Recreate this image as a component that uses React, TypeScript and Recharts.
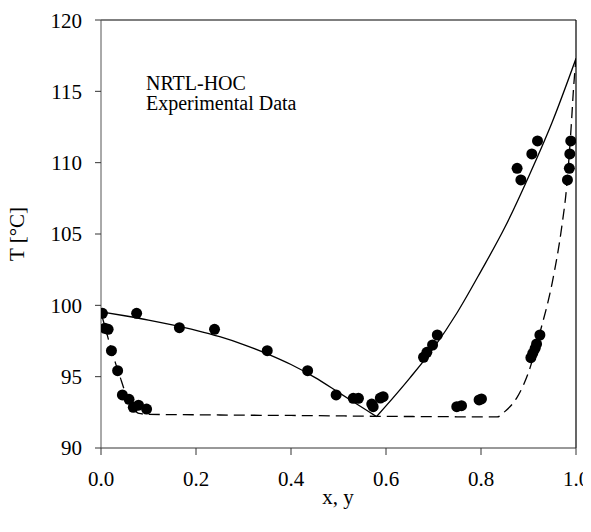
import React from "react";
import {
  ComposedChart,
  Line,
  Scatter,
  XAxis,
  YAxis,
  ReferenceLine,
  Customized,
} from "recharts";

// Model curves (NRTL-HOC)
const bubbleX = [0, 0.05, 0.1, 0.15, 0.2, 0.25, 0.3, 0.35, 0.4, 0.45, 0.5, 0.54, 0.58];
const bubbleT = [99.55, 99.27, 98.97, 98.63, 98.25, 97.8, 97.25, 96.6, 95.85, 94.95, 93.9, 93.05, 92.2];
const bubbleX2 = [0.58, 0.6, 0.65, 0.7, 0.75, 0.8, 0.85, 0.9, 0.95, 1.0];
const bubbleT2 = [92.2, 92.95, 94.9, 97.0, 99.5, 102.4, 105.45, 109.0, 112.85, 117.3];

const dewX = [0, 0.01, 0.02, 0.03, 0.04, 0.05, 0.06, 0.07, 0.08, 0.1, 0.2, 0.3, 0.4, 0.5, 0.58, 0.7, 0.8, 0.834, 0.85, 0.875, 0.9, 0.925, 0.95, 0.97, 0.98, 0.99, 0.995, 1.0];
const dewT = [99.5, 98.3, 97.1, 96.0, 95.0, 94.0, 93.25, 92.7, 92.42, 92.36, 92.33, 92.3, 92.28, 92.25, 92.22, 92.2, 92.18, 92.18, 92.55, 93.5, 95.3, 98.2, 101.6, 105.5, 108.2, 112.6, 115.3, 117.3];

// Experimental data
const expX = [
  0.003, 0.008, 0.015, 0.022, 0.035, 0.045, 0.059, 0.068, 0.079, 0.096,
  0.075, 0.165, 0.239, 0.35, 0.435, 0.495, 0.531, 0.542, 0.57, 0.573, 0.588, 0.594,
  0.679, 0.686, 0.698, 0.708,
  0.749, 0.759, 0.796, 0.801,
  0.905, 0.909, 0.914, 0.917, 0.924,
  0.876, 0.884, 0.907, 0.919,
  0.982, 0.986, 0.987, 0.989,
];
const expT = [
  99.44, 98.4, 98.32, 96.82, 95.42, 93.72, 93.41, 92.85, 93.0, 92.73,
  99.44, 98.43, 98.32, 96.82, 95.42, 93.72, 93.48, 93.48, 93.08, 92.9, 93.5, 93.6,
  96.36, 96.71, 97.22, 97.92,
  92.9, 92.97, 93.37, 93.44,
  96.33, 96.64, 96.99, 97.29, 97.92,
  109.6, 108.79, 110.61, 111.52,
  108.79, 109.6, 110.61, 111.52,
];

const xTicks = [0, 0.2, 0.4, 0.6, 0.8, 1.0];
const yTicks = [90, 95, 100, 105, 110, 115, 120];
const legendLines = ["NRTL-HOC", "Experimental Data"];
const xLabel = "x, y";
const yLabel = "T [°C]";

const zip = (xs: number[], ts: number[]) => xs.map((x, i) => ({ x, T: ts[i] }));
const bubbleData = zip(bubbleX, bubbleT);
const bubbleData2 = zip(bubbleX2, bubbleT2);
const dewData = zip(dewX, dewT);
const expData = zip(expX, expT);

const FONT = "Liberation Serif";

const Dot = (props: any) => {
  const { cx, cy } = props;
  if (cx == null || cy == null) return null;
  return <circle cx={cx} cy={cy} r={5.5} fill="#000" />;
};

const W = 583;
const H = 516;

export default function App() {
  return (
    <div style={{ position: "relative", width: W, height: H, fontFamily: FONT }}>
      <div
        style={{
          position: "absolute",
          left: 39,
          top: -27,
          fontFamily: FONT,
          fontSize: 21,
          whiteSpace: "pre",
          color: "#000",
        }}
      >
        {"x,"}
      </div>
      <div
        style={{
          position: "absolute",
          left: 113,
          top: -27,
          fontFamily: FONT,
          fontSize: 21,
          whiteSpace: "pre",
          color: "#000",
        }}
      >
        {"y"}
      </div>
      <ComposedChart
        width={W}
        height={H}
        margin={{ top: 12, right: 15, left: 0, bottom: 0 }}
        style={{ fontFamily: FONT }}
      >
        <XAxis
          type="number"
          dataKey="x"
          domain={[0, 1]}
          ticks={xTicks}
          tickFormatter={(v: number) => v.toFixed(1)}
          allowDataOverflow
          height={76}
          tickSize={7}
          tickMargin={16}
          stroke="#333"
          tick={{ fill: "#000", fontSize: 21, style: { fontFamily: FONT } }}
          tickLine={{ stroke: "#333" }}
        />
        <YAxis
          type="number"
          dataKey="T"
          domain={[90, 120]}
          ticks={yTicks}
          allowDataOverflow
          width={93}
          tickSize={6}
          tickMargin={13}
          stroke="#555"
          tick={{ fill: "#000", fontSize: 21, style: { fontFamily: FONT } }}
          tickLine={{ stroke: "#333" }}
        />
        <ReferenceLine y={120} stroke="#000" strokeWidth={1.2} ifOverflow="visible" />
        <ReferenceLine x={1} stroke="#000" strokeWidth={1.2} ifOverflow="visible" />
        <Line
          data={bubbleData}
          dataKey="T"
          type="monotone"
          stroke="#000"
          strokeWidth={1.3}
          dot={false}
          isAnimationActive={false}
        />
        <Line
          data={bubbleData2}
          dataKey="T"
          type="monotone"
          stroke="#000"
          strokeWidth={1.3}
          dot={false}
          isAnimationActive={false}
        />
        <Line
          data={dewData}
          dataKey="T"
          type="monotone"
          stroke="#000"
          strokeWidth={1.3}
          strokeDasharray="11 6"
          dot={false}
          isAnimationActive={false}
        />
        <Scatter data={expData} dataKey="T" shape={<Dot />} isAnimationActive={false} />
        <Customized
          component={() => (
            <g fill="#000" style={{ fontFamily: FONT }}>
              <text x={138} y={82} fontSize={20} style={{ fontFamily: FONT }}>
                {legendLines[0]}
              </text>
              <text x={138} y={101.5} fontSize={20} style={{ fontFamily: FONT }}>
                {legendLines[1]}
              </text>
              <text x={330} y={496} fontSize={21} textAnchor="middle" style={{ fontFamily: FONT }}>
                {xLabel}
              </text>
              <text
                x={0}
                y={0}
                fontSize={21}
                textAnchor="middle"
                transform="translate(16,226) rotate(-90)"
                style={{ fontFamily: FONT }}
              >
                {yLabel}
              </text>
            </g>
          )}
        />
      </ComposedChart>
    </div>
  );
}
